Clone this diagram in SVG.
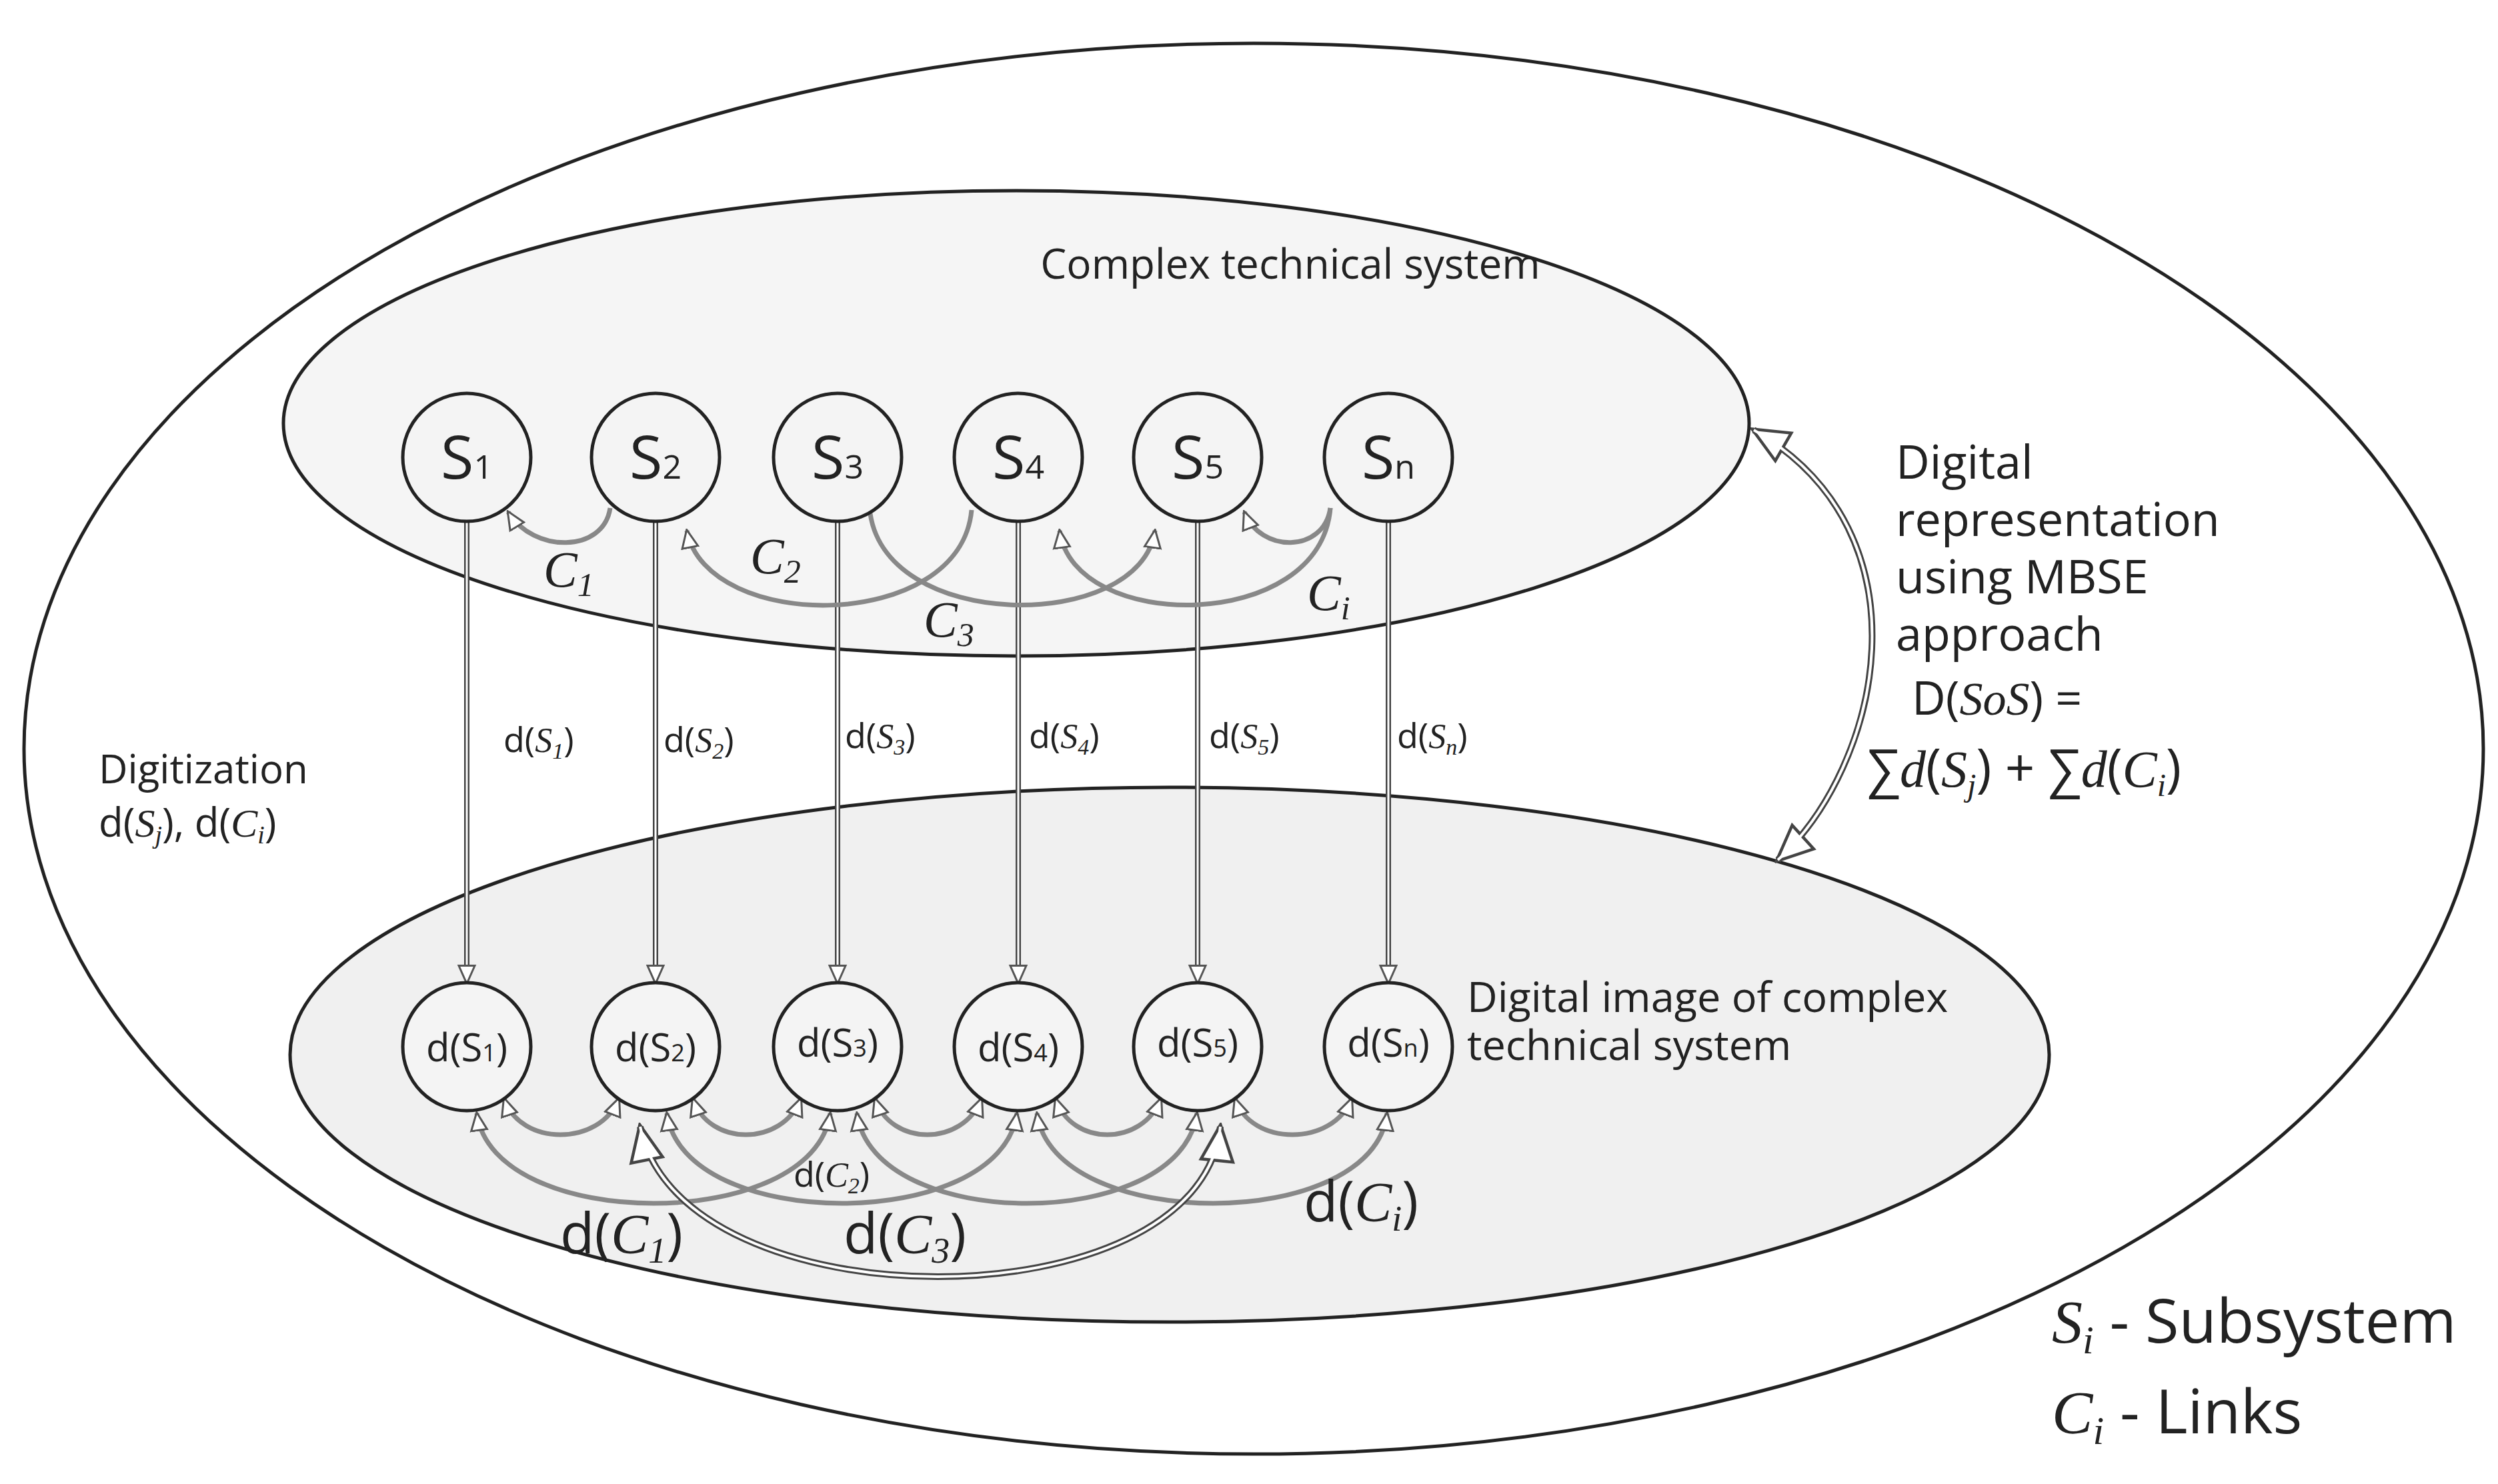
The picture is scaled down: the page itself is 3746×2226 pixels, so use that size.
<svg xmlns="http://www.w3.org/2000/svg" width="3746" height="2226" viewBox="0 0 3746 2226">
<style>
.t{font-family:"Open Sans","DejaVu Sans",sans-serif;fill:#222}
.m{font-family:"Liberation Serif","DejaVu Serif",serif;font-style:italic;fill:#222}
.node{fill:#f4f4f4;stroke:#222;stroke-width:5}
.arc{fill:none;stroke:#888;stroke-width:7}
.vo{fill:none;stroke:#444;stroke-width:8}
.vi{fill:none;stroke:#fff;stroke-width:3}
</style>
<defs>
<marker id="ah" viewBox="0 0 20 20" refX="18" refY="10" markerWidth="30" markerHeight="30" markerUnits="userSpaceOnUse" orient="auto-start-reverse"><path d="M1,2 L19,10 L1,18 Z" fill="#fff" stroke="#555" stroke-width="2"/></marker>
<marker id="ahb" viewBox="0 0 20 20" refX="18" refY="10" markerWidth="60" markerHeight="60" markerUnits="userSpaceOnUse" orient="auto-start-reverse"><path d="M1,2 L19,10 L1,18 Z" fill="#fff" stroke="#444" stroke-width="1.5"/></marker>
</defs>
<rect width="3746" height="2226" fill="#fff"/>
<g id="outer"><ellipse cx="1880" cy="1123" rx="1844" ry="1058" fill="#fff" stroke="#222" stroke-width="5"/></g>
<g id="top-system"><ellipse cx="1524" cy="635" rx="1099" ry="349" fill="#f5f5f5" stroke="#222" stroke-width="5"/>
<text class="t" x="1935" y="418" font-size="62" text-anchor="middle">Complex technical system</text></g>
<g id="bottom-system"><ellipse cx="1754" cy="1582" rx="1319" ry="401" fill="#f0f0f0" stroke="#222" stroke-width="5"/>
<text class="t" x="2200" y="1518" font-size="63">Digital image of complex</text>
<text class="t" x="2200" y="1590" font-size="63">technical system</text></g>
<g id="connectors">
<g>
<path class="vo" d="M700 782V1468"/><path class="vo" d="M983 782V1468"/><path class="vo" d="M1256 782V1468"/><path class="vo" d="M1527 782V1468"/><path class="vo" d="M1796 782V1468"/><path class="vo" d="M2082 782V1468"/>
<path class="vi" d="M700 782V1474" marker-end="url(#ah)"/><path class="vi" d="M983 782V1474" marker-end="url(#ah)"/><path class="vi" d="M1256 782V1474" marker-end="url(#ah)"/><path class="vi" d="M1527 782V1474" marker-end="url(#ah)"/><path class="vi" d="M1796 782V1474" marker-end="url(#ah)"/><path class="vi" d="M2082 782V1474" marker-end="url(#ah)"/>
</g>
<path class="arc" d="M915 762 C905 830 800 830 762 768" marker-end="url(#ah)"/>
<path class="arc" d="M1457 765 C1440 950 1060 950 1030 796" marker-end="url(#ah)"/>
<path class="arc" d="M1304 762 C1320 950 1710 950 1732 796" marker-end="url(#ah)"/>
<path class="arc" d="M1995 762 C1980 950 1610 950 1589 796" marker-end="url(#ah)"/>
<path class="arc" d="M1995 762 C1985 830 1890 830 1866 768" marker-end="url(#ah)"/>
<path class="arc" d="M756 1648 C780 1720 900 1720 928 1648" marker-start="url(#ah)" marker-end="url(#ah)"/>
<path class="arc" d="M1039 1648 C1063 1720 1173 1720 1201 1648" marker-start="url(#ah)" marker-end="url(#ah)"/>
<path class="arc" d="M1312 1648 C1336 1720 1444 1720 1472 1648" marker-start="url(#ah)" marker-end="url(#ah)"/>
<path class="arc" d="M1583 1648 C1607 1720 1713 1720 1741 1648" marker-start="url(#ah)" marker-end="url(#ah)"/>
<path class="arc" d="M1852 1648 C1876 1720 1999 1720 2027 1648" marker-start="url(#ah)" marker-end="url(#ah)"/>
<path class="arc" d="M715 1670 C740 1850 1220 1850 1245 1670" marker-start="url(#ah)" marker-end="url(#ah)"/>
<path class="arc" d="M1000 1670 C1025 1850 1500 1850 1525 1670" marker-start="url(#ah)" marker-end="url(#ah)"/>
<path class="arc" d="M1285 1670 C1310 1850 1770 1850 1795 1670" marker-start="url(#ah)" marker-end="url(#ah)"/>
<path class="arc" d="M1555 1670 C1580 1850 2060 1850 2080 1670" marker-start="url(#ah)" marker-end="url(#ah)"/>
<path d="M960 1690 C1020 1990 1800 1990 1830 1690" fill="none" stroke="#444" stroke-width="10" marker-start="url(#ahb)" marker-end="url(#ahb)"/>
<path d="M960 1690 C1020 1990 1800 1990 1830 1690" fill="none" stroke="#fff" stroke-width="4"/>
<path d="M2630 645 C2900 800 2820 1150 2666 1290" fill="none" stroke="#444" stroke-width="10" marker-start="url(#ahb)" marker-end="url(#ahb)"/>
<path d="M2630 645 C2900 800 2820 1150 2666 1290" fill="none" stroke="#fff" stroke-width="4"/>
</g>
<g id="S1"><circle class="node" cx="700" cy="686" r="96"/><text class="t" x="700" y="718" font-size="90" text-anchor="middle">S<tspan font-size="50">1</tspan></text></g>
<g id="S2"><circle class="node" cx="983" cy="686" r="96"/><text class="t" x="983" y="718" font-size="90" text-anchor="middle">S<tspan font-size="50">2</tspan></text></g>
<g id="S3"><circle class="node" cx="1256" cy="686" r="96"/><text class="t" x="1256" y="718" font-size="90" text-anchor="middle">S<tspan font-size="50">3</tspan></text></g>
<g id="S4"><circle class="node" cx="1527" cy="686" r="96"/><text class="t" x="1527" y="718" font-size="90" text-anchor="middle">S<tspan font-size="50">4</tspan></text></g>
<g id="S5"><circle class="node" cx="1796" cy="686" r="96"/><text class="t" x="1796" y="718" font-size="90" text-anchor="middle">S<tspan font-size="50">5</tspan></text></g>
<g id="Sn"><circle class="node" cx="2082" cy="686" r="96"/><text class="t" x="2082" y="718" font-size="90" text-anchor="middle">S<tspan font-size="50">n</tspan></text></g>
<g id="dS1"><circle class="node" cx="700" cy="1570" r="96"/><text class="t" x="700" y="1592" font-size="58" text-anchor="middle">d(S<tspan font-size="36">1</tspan>)</text></g>
<g id="dS2"><circle class="node" cx="983" cy="1570" r="96"/><text class="t" x="983" y="1592" font-size="58" text-anchor="middle">d(S<tspan font-size="36">2</tspan>)</text></g>
<g id="dS3"><circle class="node" cx="1256" cy="1570" r="96"/><text class="t" x="1256" y="1585" font-size="58" text-anchor="middle">d(S<tspan font-size="36">3</tspan>)</text></g>
<g id="dS4"><circle class="node" cx="1527" cy="1570" r="96"/><text class="t" x="1527" y="1592" font-size="58" text-anchor="middle">d(S<tspan font-size="36">4</tspan>)</text></g>
<g id="dS5"><circle class="node" cx="1796" cy="1570" r="96"/><text class="t" x="1796" y="1585" font-size="58" text-anchor="middle">d(S<tspan font-size="36">5</tspan>)</text></g>
<g id="dSn"><circle class="node" cx="2082" cy="1570" r="96"/><text class="t" x="2082" y="1585" font-size="58" text-anchor="middle">d(S<tspan font-size="36">n</tspan>)</text></g>
<g id="labels">
<text class="m" x="815" y="880" font-size="76">C<tspan font-size="50" dy="14">1</tspan></text>
<text class="m" x="1125" y="860" font-size="76">C<tspan font-size="50" dy="14">2</tspan></text>
<text class="m" x="1385" y="955" font-size="76">C<tspan font-size="50" dy="14">3</tspan></text>
<text class="m" x="1960" y="915" font-size="76">C<tspan font-size="50" dy="14">i</tspan></text>
<g font-size="52">
<text class="t" x="755" y="1128">d(<tspan class="m">S</tspan><tspan class="m" font-size="34" dy="10">1</tspan><tspan dy="-10">)</tspan></text>
<text class="t" x="995" y="1128">d(<tspan class="m">S</tspan><tspan class="m" font-size="34" dy="10">2</tspan><tspan dy="-10">)</tspan></text>
<text class="t" x="1267" y="1122">d(<tspan class="m">S</tspan><tspan class="m" font-size="34" dy="10">3</tspan><tspan dy="-10">)</tspan></text>
<text class="t" x="1543" y="1122">d(<tspan class="m">S</tspan><tspan class="m" font-size="34" dy="10">4</tspan><tspan dy="-10">)</tspan></text>
<text class="t" x="1813" y="1122">d(<tspan class="m">S</tspan><tspan class="m" font-size="34" dy="10">5</tspan><tspan dy="-10">)</tspan></text>
<text class="t" x="2095" y="1122">d(<tspan class="m">S</tspan><tspan class="m" font-size="34" dy="10">n</tspan><tspan dy="-10">)</tspan></text>
</g>
<text class="t" x="1190" y="1780" font-size="52">d(<tspan class="m">C</tspan><tspan class="m" font-size="34" dy="10">2</tspan><tspan dy="-10">)</tspan></text>
<text class="t" x="840" y="1880" font-size="84">d(<tspan class="m">C</tspan><tspan class="m" font-size="54" dy="14">1</tspan><tspan dy="-14">)</tspan></text>
<text class="t" x="1265" y="1880" font-size="84">d(<tspan class="m">C</tspan><tspan class="m" font-size="54" dy="14">3</tspan><tspan dy="-14">)</tspan></text>
<text class="t" x="1955" y="1832" font-size="84">d(<tspan class="m">C</tspan><tspan class="m" font-size="54" dy="14">i</tspan><tspan dy="-14">)</tspan></text>
<text class="t" x="148" y="1175" font-size="60">Digitization</text>
<text class="t" x="148" y="1255" font-size="60">d(<tspan class="m">S</tspan><tspan class="m" font-size="38" dy="10">j</tspan><tspan dy="-10">), d(</tspan><tspan class="m">C</tspan><tspan class="m" font-size="38" dy="10">i</tspan><tspan dy="-10">)</tspan></text>
<text class="t" x="2843" y="718" font-size="70">Digital</text>
<text class="t" x="2843" y="804" font-size="70">representation</text>
<text class="t" x="2843" y="890" font-size="70">using MBSE</text>
<text class="t" x="2843" y="976" font-size="70">approach</text>
<text class="t" x="2867" y="1072" font-size="70">D(<tspan class="m">SoS</tspan>) =</text>
<text class="t" x="2800" y="1180" font-size="78">∑<tspan class="m">d</tspan>(<tspan class="m">S</tspan><tspan class="m" font-size="48" dy="14">j</tspan><tspan dy="-14">) + ∑</tspan><tspan class="m">d</tspan>(<tspan class="m">C</tspan><tspan class="m" font-size="48" dy="14">i</tspan><tspan dy="-14">)</tspan></text>
</g>
<g id="legend">
<text class="t" x="3077" y="2014" font-size="92"><tspan class="m">S</tspan><tspan class="m" font-size="60" dy="16">i</tspan><tspan dy="-16"> - Subsystem</tspan></text>
<text class="t" x="3077" y="2150" font-size="92"><tspan class="m">C</tspan><tspan class="m" font-size="60" dy="16">i</tspan><tspan dy="-16"> - Links</tspan></text>
</g>
</svg>
